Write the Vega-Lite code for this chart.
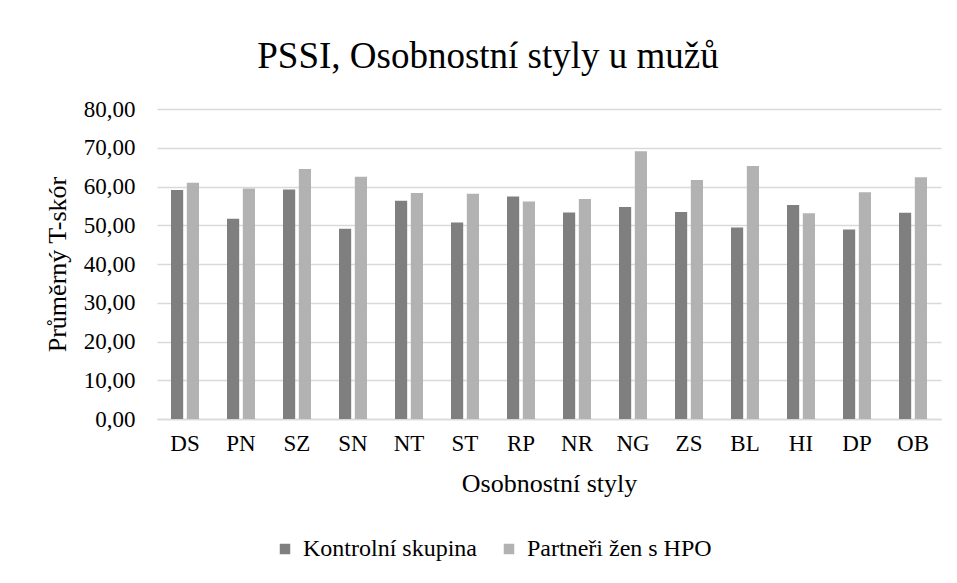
{
  "$schema": "https://vega.github.io/schema/vega-lite/v6.json",
  "width": 784,
  "height": 310,
  "autosize": "none",
  "padding": {"left": 157, "top": 109, "right": 16, "bottom": 164},
  "background": "white",
  "title": {
    "text": "PSSI, Osobnostní styly u mužů",
    "font": "Liberation Serif",
    "fontSize": 37,
    "fontWeight": "normal",
    "color": "#000000",
    "anchor": "middle",
    "dx": -61,
    "offset": 22
  },
  "data": {
    "values": [
      {"styl": "DS", "skupina": "Kontrolní skupina", "hodnota": 59.1},
      {"styl": "DS", "skupina": "Partneři žen s HPO", "hodnota": 61.0},
      {"styl": "PN", "skupina": "Kontrolní skupina", "hodnota": 51.7},
      {"styl": "PN", "skupina": "Partneři žen s HPO", "hodnota": 59.5},
      {"styl": "SZ", "skupina": "Kontrolní skupina", "hodnota": 59.2},
      {"styl": "SZ", "skupina": "Partneři žen s HPO", "hodnota": 64.5},
      {"styl": "SN", "skupina": "Kontrolní skupina", "hodnota": 49.1},
      {"styl": "SN", "skupina": "Partneři žen s HPO", "hodnota": 62.5},
      {"styl": "NT", "skupina": "Kontrolní skupina", "hodnota": 56.3},
      {"styl": "NT", "skupina": "Partneři žen s HPO", "hodnota": 58.3},
      {"styl": "ST", "skupina": "Kontrolní skupina", "hodnota": 50.7},
      {"styl": "ST", "skupina": "Partneři žen s HPO", "hodnota": 58.1},
      {"styl": "RP", "skupina": "Kontrolní skupina", "hodnota": 57.4},
      {"styl": "RP", "skupina": "Partneři žen s HPO", "hodnota": 56.1},
      {"styl": "NR", "skupina": "Kontrolní skupina", "hodnota": 53.3},
      {"styl": "NR", "skupina": "Partneři žen s HPO", "hodnota": 56.8},
      {"styl": "NG", "skupina": "Kontrolní skupina", "hodnota": 54.7},
      {"styl": "NG", "skupina": "Partneři žen s HPO", "hodnota": 69.1},
      {"styl": "ZS", "skupina": "Kontrolní skupina", "hodnota": 53.4},
      {"styl": "ZS", "skupina": "Partneři žen s HPO", "hodnota": 61.7},
      {"styl": "BL", "skupina": "Kontrolní skupina", "hodnota": 49.4},
      {"styl": "BL", "skupina": "Partneři žen s HPO", "hodnota": 65.3},
      {"styl": "HI", "skupina": "Kontrolní skupina", "hodnota": 55.2},
      {"styl": "HI", "skupina": "Partneři žen s HPO", "hodnota": 53.1},
      {"styl": "DP", "skupina": "Kontrolní skupina", "hodnota": 48.9},
      {"styl": "DP", "skupina": "Partneři žen s HPO", "hodnota": 58.5},
      {"styl": "OB", "skupina": "Kontrolní skupina", "hodnota": 53.2},
      {"styl": "OB", "skupina": "Partneři žen s HPO", "hodnota": 62.4}
    ]
  },
  "mark": {"type": "bar"},
  "encoding": {
    "x": {
      "field": "styl",
      "type": "nominal",
      "sort": null,
      "scale": {"paddingInner": 0.5, "paddingOuter": 0.25},
      "axis": {
        "title": "Osobnostní styly",
        "labelAngle": 0,
        "ticks": false,
        "domainColor": "#d9d9d9",
        "domainWidth": 1.5,
        "labelPadding": 13,
        "titlePadding": 15,
        "labelOverlap": false
      }
    },
    "xOffset": {
      "field": "skupina",
      "type": "nominal",
      "scale": {"paddingInner": 0.23, "paddingOuter": 0}
    },
    "y": {
      "field": "hodnota",
      "type": "quantitative",
      "scale": {"domain": [0, 80], "nice": false},
      "axis": {
        "title": "Průměrný T-skór",
        "values": [0, 10, 20, 30, 40, 50, 60, 70, 80],
        "labelExpr": "replace(format(datum.value, '.2f'), '.', ',')",
        "labelOverlap": false,
        "domain": false,
        "ticks": false,
        "gridColor": "#d9d9d9",
        "gridWidth": 1.5,
        "labelPadding": 22,
        "titlePadding": 13
      }
    },
    "color": {
      "field": "skupina",
      "type": "nominal",
      "scale": {"domain": ["Kontrolní skupina", "Partneři žen s HPO"], "range": ["#7f7f7f", "#b2b2b2"]},
      "legend": {
        "title": null,
        "orient": "none",
        "direction": "horizontal",
        "legendX": 116,
        "legendY": 428,
        "symbolType": "square",
        "symbolSize": 110,
        "symbolStrokeWidth": 0,
        "labelOffset": 6,
        "columnPadding": 20,
        "labelFont": "Liberation Serif",
        "labelFontSize": 24,
        "labelColor": "#000000",
        "labelLimit": 400
      }
    }
  },
  "config": {
    "font": "Liberation Serif",
    "view": {"stroke": null},
    "axis": {
      "labelFont": "Liberation Serif",
      "titleFont": "Liberation Serif",
      "labelFontSize": 23,
      "titleFontSize": 26,
      "titleFontWeight": "normal",
      "labelColor": "#000000",
      "titleColor": "#000000"
    }
  }
}
